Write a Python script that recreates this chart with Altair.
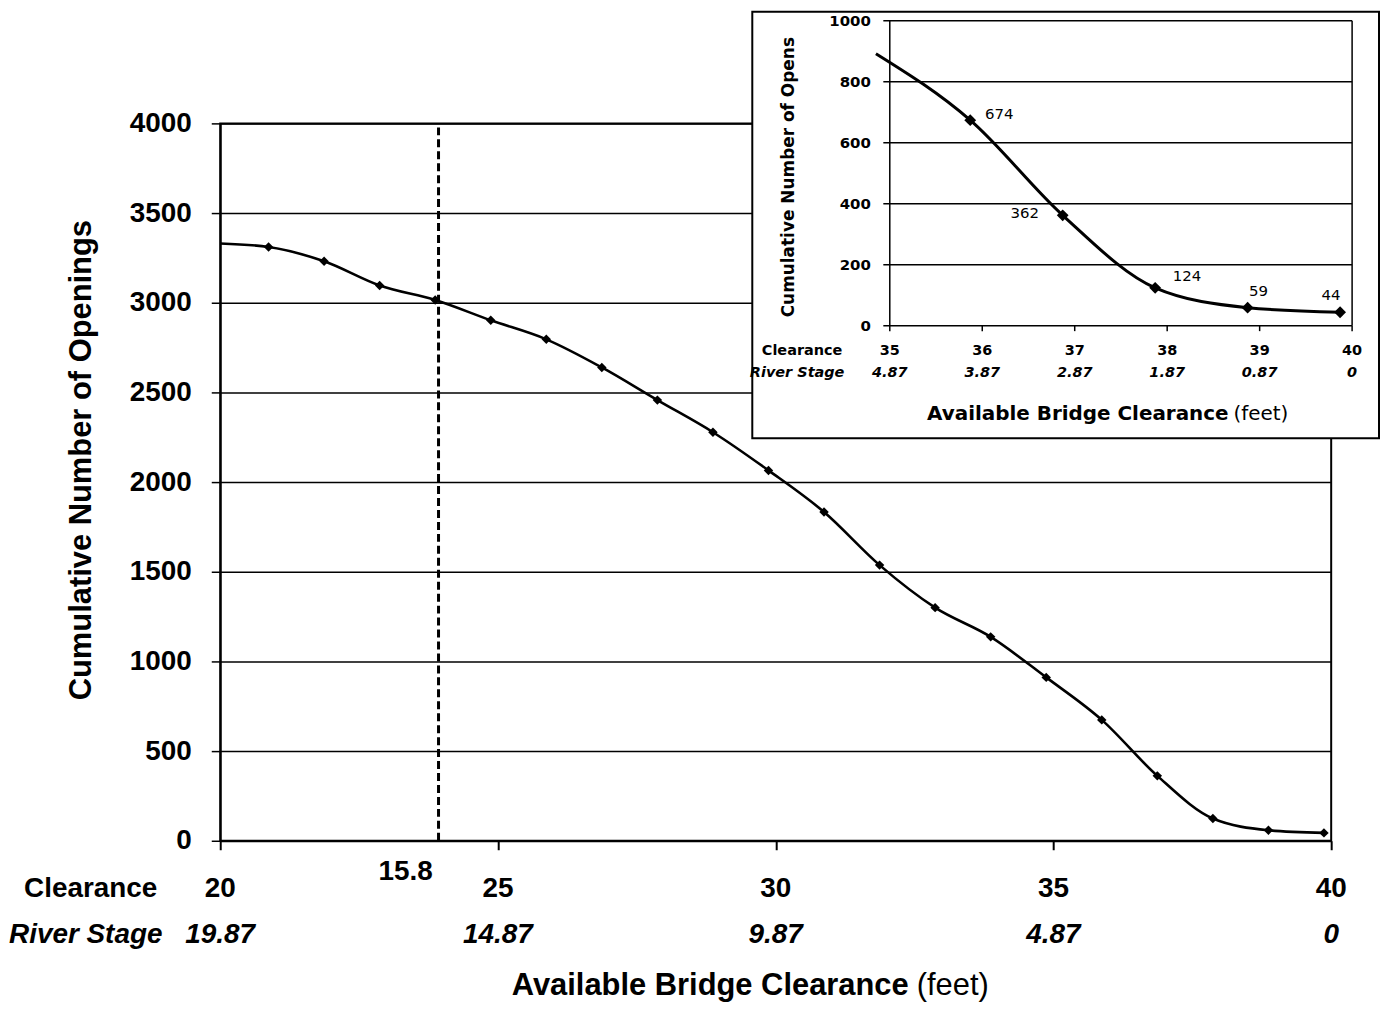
import altair as alt
import pandas as pd

# ---------------- data ----------------
# main chart: available bridge clearance (ft) vs cumulative number of openings
main_clearance = [20.0, 20.87, 21.87, 22.87, 23.87, 24.87, 25.87, 26.87, 27.87, 28.87,
                  29.87, 30.87, 31.87, 32.87, 33.87, 34.87, 35.87, 36.87, 37.87, 38.87, 39.87]
main_openings = [3330, 3311, 3231, 3096, 3015, 2902, 2796, 2639, 2457, 2278,
                 2065, 1833, 1537, 1300, 1137, 911, 674, 362, 124, 59, 44]
main_marker = [False] + [True] * 20

main_x_ticks = [20, 25, 30, 35, 40]
main_x_tick_labels = ["20", "25", "30", "35", "40"]
main_stage_labels = ["19.87", "14.87", "9.87", "4.87", "0"]
main_y_ticks = [0, 500, 1000, 1500, 2000, 2500, 3000, 3500, 4000]

threshold_clearance = 23.93
threshold_label = "15.8"

# inset chart
inset_clearance = [34.85, 35.87, 36.87, 37.87, 38.87, 39.87]
inset_opens = [892, 674, 362, 124, 59, 44]
inset_marker = [False, True, True, True, True, True]
inset_value_labels = ["", "674", "362", "124", "59", "44"]

inset_x_ticks = [35, 36, 37, 38, 39, 40]
inset_x_tick_labels = ["35", "36", "37", "38", "39", "40"]
inset_stage_labels = ["4.87", "3.87", "2.87", "1.87", "0.87", "0"]
inset_y_ticks = [0, 200, 400, 600, 800, 1000]
inset_y_tick_labels = ["0", "200", "400", "600", "800", "1000"]
inset_x_domain = [35, 40]
inset_y_domain = [0, 1000]

# ---------------- tables ----------------
df_main = pd.DataFrame({"clearance": main_clearance, "openings": main_openings, "marker": main_marker})
df_main_ticks = pd.DataFrame({"clearance": main_x_ticks, "clab": main_x_tick_labels, "slab": main_stage_labels})
df_one = pd.DataFrame({"k": [0]})

df_inset = pd.DataFrame({"clearance": inset_clearance, "openings": inset_opens,
                         "marker": inset_marker, "lab": inset_value_labels})
df_inset_xt = pd.DataFrame({"clearance": inset_x_ticks, "clab": inset_x_tick_labels, "slab": inset_stage_labels})
df_inset_yt = pd.DataFrame({"openings": inset_y_ticks, "ylab": inset_y_tick_labels})

# ---------------- layout ----------------
W, H = 1115, 720
MAIN_X = [20, 40]
MAIN_Y = [0, 4000]
MAIN_FONT = "Liberation Sans"
INSET_FONT = "DejaVu Sans"

# inset plot box inside the main plot area (pixels)
IX0, IX1 = 672, 1136     # left / right
IYB, IYT = 203, -103     # bottom / top


def ix(expr):
    """inset clearance -> main x data units (linear, through the inset pixel box)"""
    px = f"({IX0} + (({expr}) - {inset_x_domain[0]}) * {(IX1 - IX0) / (inset_x_domain[1] - inset_x_domain[0])})"
    return f"{MAIN_X[0]} + {px} * {(MAIN_X[1] - MAIN_X[0]) / W}"


def iy(expr):
    """inset openings -> main y data units"""
    py = f"({IYB} - (({expr}) - {inset_y_domain[0]}) * {(IYB - IYT) / (inset_y_domain[1] - inset_y_domain[0])})"
    return f"({H} - {py}) * {(MAIN_Y[1] - MAIN_Y[0]) / H}"


xs = alt.Scale(domain=MAIN_X, nice=False, zero=False)
ys = alt.Scale(domain=MAIN_Y, nice=False, zero=False)

XAXIS = alt.Axis(values=main_x_ticks, labels=False, title=None, grid=False,
                 tickSize=9, tickWidth=2, tickColor="black",
                 domainColor="black", domainWidth=2)
YAXIS = alt.Axis(values=main_y_ticks, format="d", title=None, grid=True, gridColor="black",
                 gridWidth=1.5, gridOpacity=1, tickSize=9, tickWidth=1.5,
                 tickColor="black", domainColor="black", domainWidth=2,
                 labelFont=MAIN_FONT, labelFontSize=28, labelFontWeight="bold",
                 labelColor="black", labelPadding=20)


def X(field):
    return alt.X(field, scale=xs, axis=XAXIS)


def Y(field):
    return alt.Y(field, scale=ys, axis=YAXIS)


# ---------------- main chart ----------------
main_line = alt.Chart(df_main).mark_line(color="black", strokeWidth=2.6, interpolate="monotone").encode(
    x=X("clearance:Q"), y=Y("openings:Q"))

main_pts = alt.Chart(df_main).transform_filter("datum.marker").mark_point(
    shape="diamond", filled=True, color="black", size=90, opacity=1).encode(
    x=X("clearance:Q"), y=Y("openings:Q"))

dash_rule = alt.Chart(df_one).transform_calculate(
    xm=str(threshold_clearance), ya=str(MAIN_Y[0]), yb=str(MAIN_Y[1])
).mark_rule(color="black", strokeWidth=3, strokeDash=[8, 4]).encode(
    x=X("xm:Q"), y=Y("ya:Q"), y2="yb:Q")

thr_text = alt.Chart(df_one).transform_calculate(xm=str(threshold_clearance)).mark_text(
    text=threshold_label, font=MAIN_FONT, fontSize=28, fontWeight="bold", color="black",
    dx=-33, baseline="middle").encode(
    x=X("xm:Q"), y=alt.value(751))

clear_row = alt.Chart(df_main_ticks).mark_text(
    font=MAIN_FONT, fontSize=28, fontWeight="bold", color="black", baseline="middle").encode(
    x=X("clearance:Q"), y=alt.value(768), text="clab:N")

stage_row = alt.Chart(df_main_ticks).mark_text(
    font=MAIN_FONT, fontSize=28, fontWeight="bold", fontStyle="italic", color="black",
    baseline="middle").encode(
    x=X("clearance:Q"), y=alt.value(815), text="slab:N")


def label(text, x, y, size, font=MAIN_FONT, weight="bold", style="normal", align="center", angle=0):
    return alt.Chart(df_one).mark_text(
        text=text, font=font, fontSize=size, fontWeight=weight, fontStyle=style,
        color="black", align=align, baseline="middle", angle=angle).encode(
        x=alt.value(x), y=alt.value(y))


main_titles = [
    label("Clearance", -130, 768, 28),
    label("River Stage", -135, 815, 28, style="italic"),
    label("Available Bridge Clearance", 691, 866, 31, align="right"),
    label("(feet)", 699, 866, 31, weight="normal", align="left"),
    label("Cumulative Number of Openings", -139, 338, 31, angle=270),
]

# ---------------- inset chart ----------------
inset_box = alt.Chart(df_one).mark_rect(fill="white", stroke="black", strokeWidth=2).encode(
    x=alt.value(534), x2=alt.value(1163), y=alt.value(-112), y2=alt.value(316))

inset_grid = alt.Chart(df_inset_yt).transform_calculate(
    ym=iy("datum.openings"), xa=ix(str(inset_x_domain[0] - 0.07)), xb=ix(str(inset_x_domain[1]))
).mark_rule(color="black", strokeWidth=1.5).encode(
    y=Y("ym:Q"), x=X("xa:Q"), x2="xb:Q")

inset_vborders = alt.Chart(df_inset_xt).transform_filter(
    f"datum.clearance == {inset_x_domain[0]} || datum.clearance == {inset_x_domain[1]}"
).transform_calculate(
    xm=ix("datum.clearance"), ya=iy(str(inset_y_domain[0])), yb=iy(str(inset_y_domain[1]))
).mark_rule(color="black", strokeWidth=1.5).encode(
    x=X("xm:Q"), y=Y("ya:Q"), y2="yb:Q")

inset_xticks = alt.Chart(df_inset_xt).transform_calculate(
    xm=ix("datum.clearance"), ya=iy("0"), yb=iy("-18")
).mark_rule(color="black", strokeWidth=1.5).encode(
    x=X("xm:Q"), y=Y("ya:Q"), y2="yb:Q")

inset_line = alt.Chart(df_inset).transform_calculate(
    xm=ix("datum.clearance"), ym=iy("datum.openings")
).mark_line(color="black", strokeWidth=3, interpolate="monotone").encode(
    x=X("xm:Q"), y=Y("ym:Q"))

inset_pts = alt.Chart(df_inset).transform_filter("datum.marker").transform_calculate(
    xm=ix("datum.clearance"), ym=iy("datum.openings")
).mark_point(shape="diamond", filled=True, color="black", size=140, opacity=1).encode(
    x=X("xm:Q"), y=Y("ym:Q"))

label_offsets = {"674": (29, -6), "362": (-38, -2), "124": (32, -12), "59": (11, -17), "44": (-9, -17)}
inset_val_labels = [
    alt.Chart(df_inset).transform_filter(alt.datum.lab == lab).transform_calculate(
        xm=ix("datum.clearance"), ym=iy("datum.openings")
    ).mark_text(font=INSET_FONT, fontSize=15, color="black", baseline="middle", dx=dx, dy=dy).encode(
        x=X("xm:Q"), y=Y("ym:Q"), text="lab:N")
    for lab, (dx, dy) in label_offsets.items()
]

inset_ylabels = alt.Chart(df_inset_yt).transform_calculate(
    xm=ix(str(inset_x_domain[0])), ym=iy("datum.openings")
).mark_text(font=INSET_FONT, fontSize=15, fontWeight="bold", color="black", align="right",
            baseline="middle", dx=-19).encode(
    x=X("xm:Q"), y=Y("ym:Q"), text="ylab:N")

inset_clear_row = alt.Chart(df_inset_xt).transform_calculate(xm=ix("datum.clearance")).mark_text(
    font=INSET_FONT, fontSize=14.5, fontWeight="bold", color="black", baseline="middle").encode(
    x=X("xm:Q"), y=alt.value(228), text="clab:N")

inset_stage_row = alt.Chart(df_inset_xt).transform_calculate(xm=ix("datum.clearance")).mark_text(
    font=INSET_FONT, fontSize=14.5, fontWeight="bold", fontStyle="italic", color="black",
    baseline="middle").encode(
    x=X("xm:Q"), y=alt.value(251), text="slab:N")

inset_titles = [
    label("Clearance", 584, 228, 14.5, font=INSET_FONT),
    label("River Stage", 579, 251, 14.5, font=INSET_FONT, style="italic"),
    label("Available Bridge Clearance", 1012, 292, 20, font=INSET_FONT, align="right"),
    label("(feet)", 1017, 292, 20, font=INSET_FONT, weight="normal", align="left"),
    label("Cumulative Number of Opens", 571, 54, 17, font=INSET_FONT, angle=270),
]

chart = alt.layer(
    main_line, main_pts, dash_rule, thr_text, clear_row, stage_row, *main_titles,
    inset_box, inset_grid, inset_vborders, inset_xticks, inset_line, inset_pts,
    *inset_val_labels, inset_ylabels, inset_clear_row, inset_stage_row, *inset_titles,
).properties(
    width=W, height=H,
    autosize=alt.AutoSizeParams(type="none"),
    padding={"left": 213, "top": 114, "right": 50, "bottom": 160},
).configure_view(stroke="black", strokeWidth=2)

chart.save("out.html", embed_options={"renderer": "svg", "actions": False})
